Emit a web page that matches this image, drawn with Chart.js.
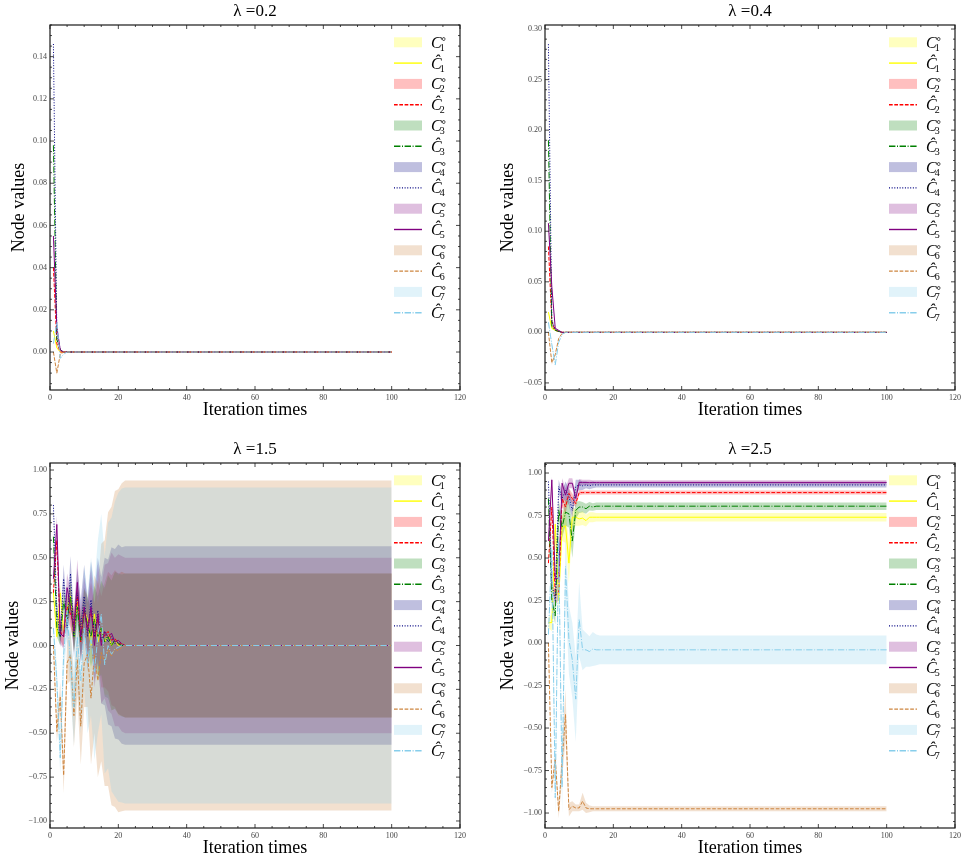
<!DOCTYPE html>
<html>
<head>
<meta charset="utf-8">
<script src="https://cdn.jsdelivr.net/npm/chart.js@4.4.1/dist/chart.umd.min.js"></script>
<style>
  html, body { margin: 0; padding: 0; background: #fff; overflow: hidden; }
  canvas { position: absolute; }
</style>
</head>
<body>
<canvas id="p0" width="467" height="425" style="left:0;top:0"></canvas>
<canvas id="p1" width="467" height="425" style="left:495px;top:0"></canvas>
<canvas id="p2" width="467" height="425" style="left:0;top:438px"></canvas>
<canvas id="p3" width="467" height="425" style="left:495px;top:438px"></canvas>
<script>
// iterations start at 1; the last value of every row holds until this iteration
const lastIteration = 100;
const nodeNames = ['1', '2', '3', '4', '5', '6', '7'];
const lambdas = ['0.2', '0.4', '1.5', '2.5'];

// lambda = 0.2  (node values C^_1..C^_7, then the half width of each band)
const lam02Values = [
  [0.010, 0.002, 0.000, 0.000, 0.000],
  [0.040, 0.004, 0.000, 0.000, 0.000],
  [0.098, 0.006, 0.001, 0.000, 0.000],
  [0.146, 0.009, 0.001, 0.000, 0.000],
  [0.055, 0.012, 0.001, 0.000, 0.000],
  [0.000, -0.010, -0.001, 0.000, 0.000],
  [0.004, 0.014, -0.003, -0.001, 0.000]
];
const lam02Spread = [
  [0.0006, 0.0004, 0.0001, 0, 0],
  [0.0008, 0.0004, 0.0001, 0, 0],
  [0.0010, 0.0005, 0.0001, 0, 0],
  [0.0012, 0.0006, 0.0001, 0, 0],
  [0.0010, 0.0006, 0.0001, 0, 0],
  [0.0004, 0.0006, 0.0002, 0, 0],
  [0.0004, 0.0006, 0.0002, 0, 0]
];

// lambda = 0.4
const lam04Values = [
  [0.020, 0.004, 0.002, 0.001, 0.000, 0.000],
  [0.085, 0.010, 0.002, 0.001, 0.000, 0.000],
  [0.190, 0.006, 0.002, 0.001, 0.000, 0.000],
  [0.285, 0.012, 0.003, 0.001, 0.000, 0.000],
  [0.108, 0.045, 0.004, 0.002, 0.000, 0.000],
  [0.000, -0.030, -0.022, -0.006, -0.001, 0.000],
  [0.010, -0.012, -0.032, -0.010, -0.002, 0.000]
];
const lam04Spread = [
  [0.0015, 0.001, 0.0005, 0, 0, 0],
  [0.002, 0.0015, 0.0005, 0, 0, 0],
  [0.002, 0.0015, 0.0005, 0, 0, 0],
  [0.0025, 0.0015, 0.0005, 0, 0, 0],
  [0.002, 0.002, 0.0005, 0, 0, 0],
  [0.001, 0.002, 0.0015, 0.0005, 0, 0],
  [0.001, 0.002, 0.0015, 0.0005, 0, 0]
];

// lambda = 1.5
const lam15Values = [
  [0.30, 0.05, 0.30, 0.08, 0.20, 0.28, 0.05, 0.25, 0.08, 0.20, 0.15, 0.00, 0.18, 0.02, 0.10, 0.02, 0.06, 0.00, 0.03, 0.00, 0.01, 0.00],
  [0.30, 0.60, 0.08, 0.05, 0.22, 0.18, 0.12, 0.28, 0.02, 0.20, 0.10, 0.20, 0.05, 0.15, 0.02, 0.06, 0.08, 0.03, 0.04, 0.01, 0.01, 0.00],
  [0.62, 0.10, 0.05, 0.25, 0.15, 0.28, 0.05, 0.22, 0.03, 0.20, 0.12, 0.05, 0.15, 0.05, 0.10, 0.02, 0.05, 0.00, 0.03, 0.01, 0.00, 0.00],
  [0.80, 0.20, 0.05, 0.38, 0.10, 0.41, 0.05, 0.30, 0.10, 0.28, 0.05, 0.26, 0.05, 0.20, 0.03, 0.08, 0.02, 0.05, 0.01, 0.02, 0.00, 0.00],
  [0.38, 0.69, 0.07, 0.05, 0.33, 0.22, 0.08, 0.36, 0.05, 0.22, 0.08, 0.22, 0.00, 0.18, 0.00, 0.08, 0.05, 0.07, 0.02, 0.03, 0.01, 0.00],
  [0.00, -0.49, -0.29, -0.74, -0.10, -0.05, -0.40, -0.08, -0.46, -0.10, -0.05, -0.30, -0.05, -0.20, -0.04, -0.10, -0.02, -0.06, -0.02, -0.03, -0.01, 0.00],
  [0.10, -0.20, -0.64, -0.05, 0.20, -0.10, -0.35, 0.05, -0.20, 0.10, -0.10, 0.05, -0.15, 0.05, 0.18, -0.11, 0.00, -0.05, -0.02, -0.01, 0.00, 0.00]
];
const lam15Spread = [
  [0.03, 0.04, 0.05, 0.06, 0.07, 0.08, 0.08, 0.10, 0.10, 0.12, 0.14, 0.16, 0.18, 0.22, 0.26, 0.30, 0.34, 0.37, 0.39, 0.40, 0.41, 0.41],
  [0.02, 0.04, 0.05, 0.06, 0.07, 0.08, 0.09, 0.10, 0.11, 0.12, 0.14, 0.16, 0.19, 0.22, 0.26, 0.30, 0.34, 0.37, 0.39, 0.40, 0.41, 0.41],
  [0.03, 0.05, 0.05, 0.06, 0.07, 0.08, 0.09, 0.10, 0.11, 0.13, 0.15, 0.17, 0.19, 0.23, 0.27, 0.31, 0.35, 0.37, 0.39, 0.40, 0.405, 0.41],
  [0.03, 0.05, 0.06, 0.08, 0.09, 0.10, 0.12, 0.14, 0.16, 0.18, 0.20, 0.22, 0.26, 0.30, 0.36, 0.42, 0.47, 0.51, 0.54, 0.555, 0.56, 0.565],
  [0.03, 0.05, 0.06, 0.07, 0.08, 0.10, 0.11, 0.13, 0.15, 0.17, 0.19, 0.21, 0.24, 0.28, 0.33, 0.38, 0.42, 0.46, 0.48, 0.49, 0.50, 0.50],
  [0.03, 0.06, 0.08, 0.10, 0.12, 0.15, 0.18, 0.20, 0.22, 0.25, 0.30, 0.38, 0.45, 0.55, 0.62, 0.70, 0.78, 0.85, 0.90, 0.92, 0.935, 0.94],
  [0.05, 0.08, 0.10, 0.12, 0.15, 0.18, 0.22, 0.26, 0.30, 0.35, 0.40, 0.45, 0.50, 0.55, 0.57, 0.62, 0.70, 0.78, 0.84, 0.88, 0.895, 0.90]
];

// lambda = 2.5
const lam25Values = [
  [0.12, 0.12, 0.70, 0.25, 0.68, 0.69, 0.47, 0.74, 0.74, 0.73, 0.735, 0.72, 0.74, 0.74, 0.74, 0.74],
  [0.47, 0.80, 0.28, 0.30, 0.85, 0.80, 0.88, 0.85, 0.82, 0.885, 0.885, 0.885, 0.885, 0.885, 0.885, 0.885],
  [0.85, 0.25, 0.16, 0.78, 0.68, 0.77, 0.76, 0.60, 0.78, 0.80, 0.80, 0.79, 0.805, 0.80, 0.805, 0.805],
  [0.95, 0.35, 0.25, 0.92, 0.85, 0.90, 0.86, 0.78, 0.92, 0.93, 0.925, 0.93, 0.925, 0.93, 0.93, 0.93],
  [0.60, 0.96, 0.38, 0.38, 0.94, 0.87, 0.94, 0.94, 0.85, 0.945, 0.945, 0.945, 0.945, 0.945, 0.945, 0.945],
  [0.00, -0.85, -0.68, -0.99, -0.70, -0.42, -0.98, -0.96, -0.97, -0.97, -0.93, -0.97, -0.975, -0.975, -0.975, -0.975],
  [0.05, 0.55, -0.91, 0.60, -0.85, 0.45, 0.02, -0.10, -0.33, 0.14, -0.04, -0.04, -0.05, -0.035, -0.04, -0.04]
];
const lam25Spread = [
  [0.03, 0.05, 0.06, 0.06, 0.08, 0.10, 0.12, 0.06, 0.05, 0.04, 0.04, 0.035, 0.03, 0.03, 0.025, 0.025],
  [0.03, 0.04, 0.05, 0.05, 0.04, 0.04, 0.03, 0.03, 0.02, 0.015, 0.012, 0.012, 0.012, 0.012, 0.012, 0.012],
  [0.03, 0.05, 0.05, 0.06, 0.06, 0.08, 0.08, 0.10, 0.05, 0.035, 0.03, 0.03, 0.025, 0.022, 0.022, 0.022],
  [0.02, 0.03, 0.04, 0.04, 0.04, 0.05, 0.05, 0.05, 0.04, 0.03, 0.025, 0.02, 0.02, 0.02, 0.015, 0.015],
  [0.02, 0.02, 0.03, 0.03, 0.03, 0.04, 0.03, 0.03, 0.03, 0.02, 0.015, 0.015, 0.015, 0.012, 0.012, 0.012],
  [0.02, 0.03, 0.04, 0.04, 0.10, 0.15, 0.04, 0.03, 0.02, 0.02, 0.05, 0.03, 0.02, 0.015, 0.015, 0.015],
  [0.05, 0.08, 0.10, 0.12, 0.15, 0.18, 0.20, 0.22, 0.25, 0.22, 0.12, 0.10, 0.09, 0.10, 0.09, 0.085]
];

// styling
const lineColors = ['#ffff00', '#ff0000', '#008000', '#000080', '#800080', '#cd853f', '#87ceeb'];
const fillColors = ['rgba(255,255,0,0.25)', 'rgba(255,0,0,0.25)', 'rgba(0,128,0,0.25)', 'rgba(0,0,128,0.25)',
                    'rgba(128,0,128,0.25)', 'rgba(205,133,63,0.25)', 'rgba(135,206,235,0.25)'];
const dashes = [[], [3.7, 1.6], [6.4, 1.6, 1, 1.6], [1, 1.65], [], [3.7, 1.6], [6.4, 1.6, 1, 1.6]];
const SERIF = '"Liberation Serif", "DejaVu Serif", serif';

const panels = [
  { id: 'p0', values: lam02Values, spread: lam02Spread, yMin: -0.018, yMax: 0.155, yStep: 0.02, yMinor: 4, yTitlePad: 8 },
  { id: 'p1', values: lam04Values, spread: lam04Spread, yMin: -0.057, yMax: 0.304, yStep: 0.05, yMinor: 5, yTitlePad: 2 },
  { id: 'p2', values: lam15Values, spread: lam15Spread, yMin: -1.04, yMax: 1.04, yStep: 0.25, yMinor: 5, yTitlePad: 2 },
  { id: 'p3', values: lam25Values, spread: lam25Spread, yMin: -1.088, yMax: 1.059, yStep: 0.25, yMinor: 5, yTitlePad: 2 }
];

function toPoints(vals, spread, sign) {
  const pts = vals.map((v, i) => ({ x: i + 1, y: v + (spread ? sign * spread[i] : 0) }));
  pts.push({ x: lastIteration, y: pts[pts.length - 1].y });
  return pts;
}

// lower "order" is painted later, so node 7 ends up on top like in the original plot
function buildDatasets(values, spread) {
  const sets = [];
  values.forEach((vals, i) => {
    sets.push({ data: toPoints(vals, spread[i], 1), fill: '+1', backgroundColor: fillColors[i],
                borderWidth: 0, borderColor: 'transparent', pointRadius: 0, order: 30 - i });
    sets.push({ data: toPoints(vals, spread[i], -1), fill: false,
                borderWidth: 0, borderColor: 'transparent', pointRadius: 0, order: 30 - i });
  });
  values.forEach((vals, i) => {
    sets.push({ data: toPoints(vals, null, 0), fill: false, borderColor: lineColors[i], borderWidth: 1,
                borderDash: dashes[i], pointRadius: 0, tension: 0, order: 7 - i });
  });
  return sets;
}

function fmt(v) {
  return v.toFixed(2).replace('-', '\u2212');
}

function framePlugin(p) {
  return {
    id: 'frameTicks',
    afterDatasetsDraw(chart) {
      const { ctx, chartArea: a } = chart;
      ctx.save();
      ctx.strokeStyle = '#1a1a1a';
      ctx.lineWidth = 0.8;
      const marks = (scale, step, divs, horizontal) => {
        const ms = step / divs;
        const k0 = Math.ceil(scale.min / ms - 1e-6), k1 = Math.floor(scale.max / ms + 1e-6);
        for (let k = k0; k <= k1; k++) {
          const len = ((k % divs) + divs) % divs === 0 ? 4 : 2;
          const q = scale.getPixelForValue(k * ms);
          ctx.beginPath();
          if (horizontal) {
            ctx.moveTo(q, a.bottom); ctx.lineTo(q, a.bottom - len);
            ctx.moveTo(q, a.top); ctx.lineTo(q, a.top + len);
          } else {
            ctx.moveTo(a.left, q); ctx.lineTo(a.left + len, q);
            ctx.moveTo(a.right, q); ctx.lineTo(a.right - len, q);
          }
          ctx.stroke();
        }
      };
      marks(chart.scales.x, 20, 4, true);
      marks(chart.scales.y, p.yStep, p.yMinor, false);
      ctx.lineWidth = 1.2;
      ctx.strokeRect(a.left, a.top, a.width, a.height);
      ctx.restore();
    }
  };
}

function drawSymbol(ctx, x, y, base, sup, sub) {
  ctx.fillStyle = '#000';
  ctx.textAlign = 'left';
  ctx.textBaseline = 'alphabetic';
  ctx.font = 'italic 16px ' + SERIF;
  ctx.fillText(base, x, y + 5.5);
  const bw = ctx.measureText(base).width;
  if (sup) {
    ctx.font = '10px "DejaVu Sans"';
    ctx.fillText(sup, x + bw - 1, y - 0.5);
  }
  ctx.font = '10px ' + SERIF;
  ctx.fillText(sub, x + bw - 2, y + 8.5);
}

const innerLegend = {
  id: 'innerLegend',
  afterDraw(chart) {
    const { ctx, chartArea: a } = chart;
    const x0 = a.right - 66, w = 28, tx = a.right - 29, gap = 20.8;
    ctx.save();
    nodeNames.forEach((n, i) => {
      const yPatch = a.top + 17.3 + 2 * i * gap;
      const yLine = yPatch + gap;
      ctx.fillStyle = fillColors[i];
      ctx.fillRect(x0, yPatch - 5, w, 10);
      ctx.strokeStyle = lineColors[i];
      ctx.lineWidth = 1.4;
      ctx.setLineDash(dashes[i]);
      ctx.beginPath();
      ctx.moveTo(x0, yLine);
      ctx.lineTo(x0 + w, yLine);
      ctx.stroke();
      ctx.setLineDash([]);
      drawSymbol(ctx, tx, yPatch, 'C', '\u2218', n);
      drawSymbol(ctx, tx, yLine, '\u0108', '', n);
    });
    ctx.restore();
  }
};

panels.forEach((p, idx) => {
  new Chart(document.getElementById(p.id), {
    type: 'line',
    data: { datasets: buildDatasets(p.values, p.spread) },
    options: {
      responsive: false,
      animation: false,
      events: [],
      layout: { padding: { left: 0, right: 7, top: 0, bottom: 0 } },
      plugins: {
        legend: { display: false },
        tooltip: { enabled: false },
        title: { display: false },
        filler: { drawTime: 'beforeDatasetsDraw' }
      },
      scales: {
        x: {
          type: 'linear', min: 0, max: 120,
          grid: { display: false, drawTicks: false }, border: { display: false },
          ticks: { stepSize: 20, includeBounds: false, padding: 3, maxRotation: 0, autoSkip: false,
                   color: '#444', font: { family: SERIF, size: 8 } },
          title: { display: true, text: 'Iteration times', color: '#000',
                   font: { family: SERIF, size: 18 }, padding: { top: 0, bottom: 4 } },
          afterFit(s) { s.height = 35; s.paddingLeft = 0; s.paddingRight = 0; }
        },
        top: {
          type: 'linear', position: 'top', min: 0, max: 120,
          grid: { display: false, drawTicks: false }, border: { display: false },
          ticks: { display: false },
          title: { display: true, text: '\u03bb =' + lambdas[idx], color: '#000',
                   font: { family: SERIF, size: 17 }, padding: { top: 1, bottom: 0 } },
          afterFit(s) { s.height = 25; s.paddingLeft = 0; s.paddingRight = 0; }
        },
        y: {
          type: 'linear', min: p.yMin, max: p.yMax,
          grid: { display: false, drawTicks: false }, border: { display: false },
          ticks: { stepSize: p.yStep, includeBounds: false, padding: 3, color: '#444',
                   font: { family: SERIF, size: 8 }, callback: v => fmt(v) },
          title: { display: true, text: 'Node values', color: '#000',
                   font: { family: SERIF, size: 18 }, padding: { top: p.yTitlePad, bottom: 0 } },
          afterFit(s) { s.width = 50; s.paddingTop = 0; s.paddingBottom = 0; }
        }
      }
    },
    plugins: [framePlugin(p), innerLegend]
  });
});
</script>
</body>
</html>
